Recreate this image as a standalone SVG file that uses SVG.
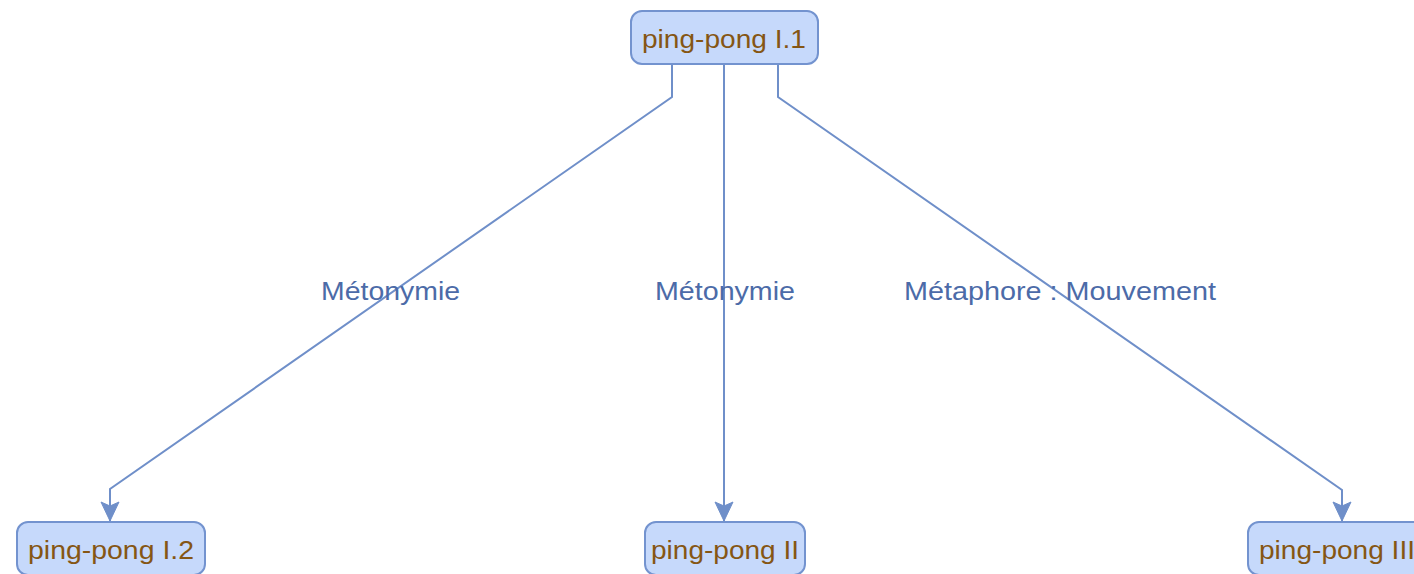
<svg xmlns="http://www.w3.org/2000/svg" width="1414" height="574" viewBox="0 0 1414 574">
  <style>
    .node rect { fill: #c6d9fb; stroke: #7393cf; stroke-width: 2; }
    .node text { font-family: "Liberation Sans", Arial, sans-serif; font-size: 25px; fill: #855614; }
    .edge { fill: none; stroke: #6f8fc9; stroke-width: 2; }
    .label { font-family: "Liberation Sans", Arial, sans-serif; font-size: 25px; fill: #4c6ba8; }
  </style>
  <defs>
    <marker id="arrow" markerUnits="userSpaceOnUse" markerWidth="22" markerHeight="22" viewBox="0 0 22 22" refX="20" refY="11" orient="auto">
      <path d="M1,2 L20,11 L1,20 L5,11 Z" fill="#6f8fc9" stroke="#6f8fc9" stroke-width="1"/>
    </marker>
  </defs>
  <rect width="1414" height="574" fill="#ffffff"/>
  <g id="connectors">
    <polyline class="edge" points="672,64 672,97 110,489 110,521" marker-end="url(#arrow)"/>
    <polyline class="edge" points="724,64 724,521" marker-end="url(#arrow)"/>
    <polyline class="edge" points="778,64 778,97 1342,490 1342,521" marker-end="url(#arrow)"/>
    <text class="label" x="321" y="300" textLength="139" lengthAdjust="spacingAndGlyphs">Métonymie</text>
    <text class="label" x="655" y="300" textLength="140" lengthAdjust="spacingAndGlyphs">Métonymie</text>
    <text class="label" x="904" y="300" textLength="312" lengthAdjust="spacingAndGlyphs">Métaphore : Mouvement</text>
  </g>
  <g id="node-i1" class="node">
    <rect x="631" y="11" width="187" height="53" rx="11" ry="11"/>
    <text x="642" y="48" textLength="164" lengthAdjust="spacingAndGlyphs">ping-pong I.1</text>
  </g>
  <g id="node-i2" class="node">
    <rect x="17" y="522" width="188" height="53" rx="11" ry="11"/>
    <text x="28" y="559" textLength="166" lengthAdjust="spacingAndGlyphs">ping-pong I.2</text>
  </g>
  <g id="node-ii" class="node">
    <rect x="645" y="522" width="160" height="53" rx="11" ry="11"/>
    <text x="651" y="559" textLength="148" lengthAdjust="spacingAndGlyphs">ping-pong II</text>
  </g>
  <g id="node-iii" class="node">
    <rect x="1248" y="522" width="188" height="53" rx="11" ry="11"/>
    <text x="1259" y="559" textLength="156" lengthAdjust="spacingAndGlyphs">ping-pong III</text>
  </g>
</svg>
